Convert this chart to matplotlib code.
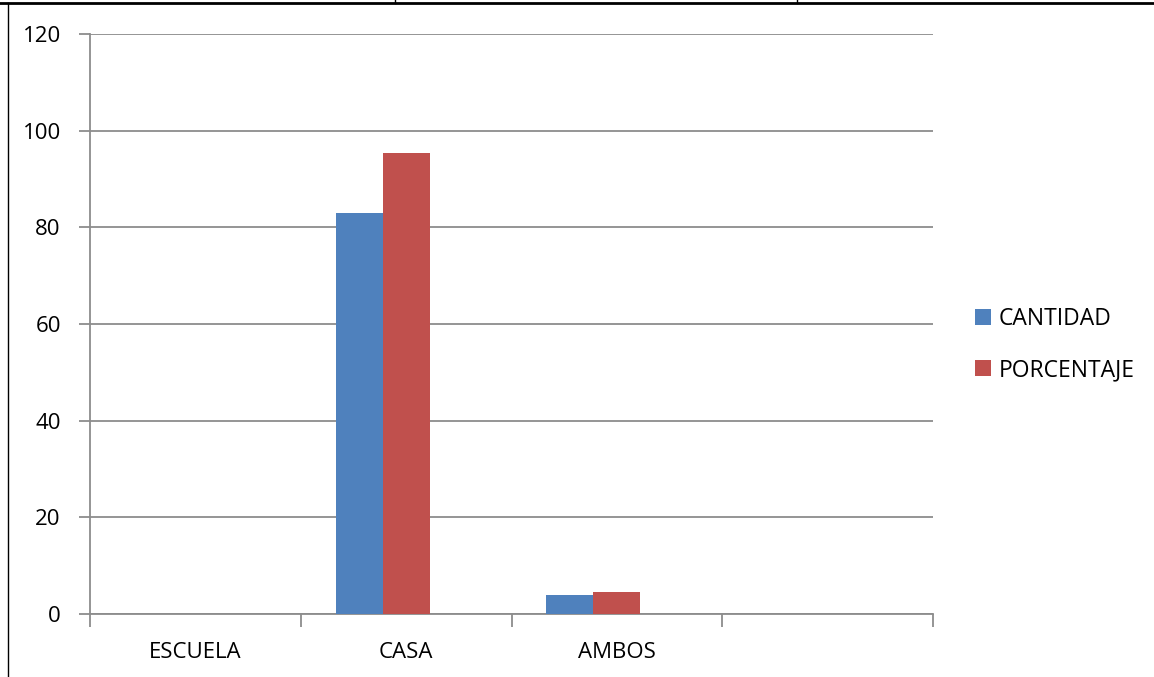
import matplotlib
matplotlib.use('Agg')
import matplotlib.pyplot as plt
from matplotlib.lines import Line2D
import numpy as np

plt.rcParams['font.family'] = ['Open Sans', 'DejaVu Sans']

#%% datos
categorias = ['ESCUELA', 'CASA', 'AMBOS', '']
cantidad = [0, 83, 4, 0]
porcentaje = [0, 95.4, 4.6, 0]
series = ['CANTIDAD', 'PORCENTAJE']
colores = ['#4F81BD', '#C0504D']
yticks = [0, 20, 40, 60, 80, 100, 120]

#%% figura
W, H = 1154, 677
fig = plt.figure(figsize=(W / 100, H / 100), dpi=100)
ax = fig.add_axes([90 / W, 63 / H, 843 / W, 580 / H])

# el grupo tiene sitio para 3 series (la tercera vacía), por eso las barras van corridas
x = np.arange(len(categorias))
ancho = 0.223
ax.bar(x - ancho, cantidad, width=ancho, color=colores[0], label=series[0], zorder=3)
ax.bar(x, porcentaje, width=ancho, color=colores[1], label=series[1], zorder=3)

ax.set_xlim(-0.5, len(categorias) - 0.5)
ax.set_ylim(0, 120)
ax.set_yticks(yticks)
ax.yaxis.grid(True, color='#8c8c8c', lw=1.3, zorder=0)

# ticks del eje x entre categorías
ax.set_xticks(np.arange(len(categorias) + 1) - 0.5)
ax.set_xticklabels([])
ax.set_xticks(x, minor=True)
ax.set_xticklabels(categorias, minor=True)
ax.tick_params(axis='x', which='minor', length=0, pad=20, labelsize=16)
ax.tick_params(axis='x', which='major', length=9, color='#8c8c8c', width=1.3)
ax.tick_params(axis='y', length=8, color='#8c8c8c', width=1.3, pad=13, labelsize=16)

for s in ['top', 'right']:
    ax.spines[s].set_visible(False)
for s in ['left', 'bottom']:
    ax.spines[s].set_color('#8c8c8c')
    ax.spines[s].set_linewidth(1.3)

ax.legend(loc='center left', bbox_to_anchor=(1.05, 0.465), frameon=False,
          borderaxespad=0, borderpad=0, handlelength=0.68, handleheight=0.68,
          handletextpad=0.35, labelspacing=1.19, fontsize=16.5)

# bordes de la tabla
fig.add_artist(Line2D([0, 1], [1 - 2.5 / H, 1 - 2.5 / H], color='black', lw=2))
fig.add_artist(Line2D([7.5 / W, 7.5 / W], [0, 1 - 2.5 / H], color='black', lw=1))
for xp in [395, 797]:
    fig.add_artist(Line2D([xp / W, xp / W], [1 - 3 / H, 1], color='black', lw=1))

fig.savefig('out.png', dpi=100)
